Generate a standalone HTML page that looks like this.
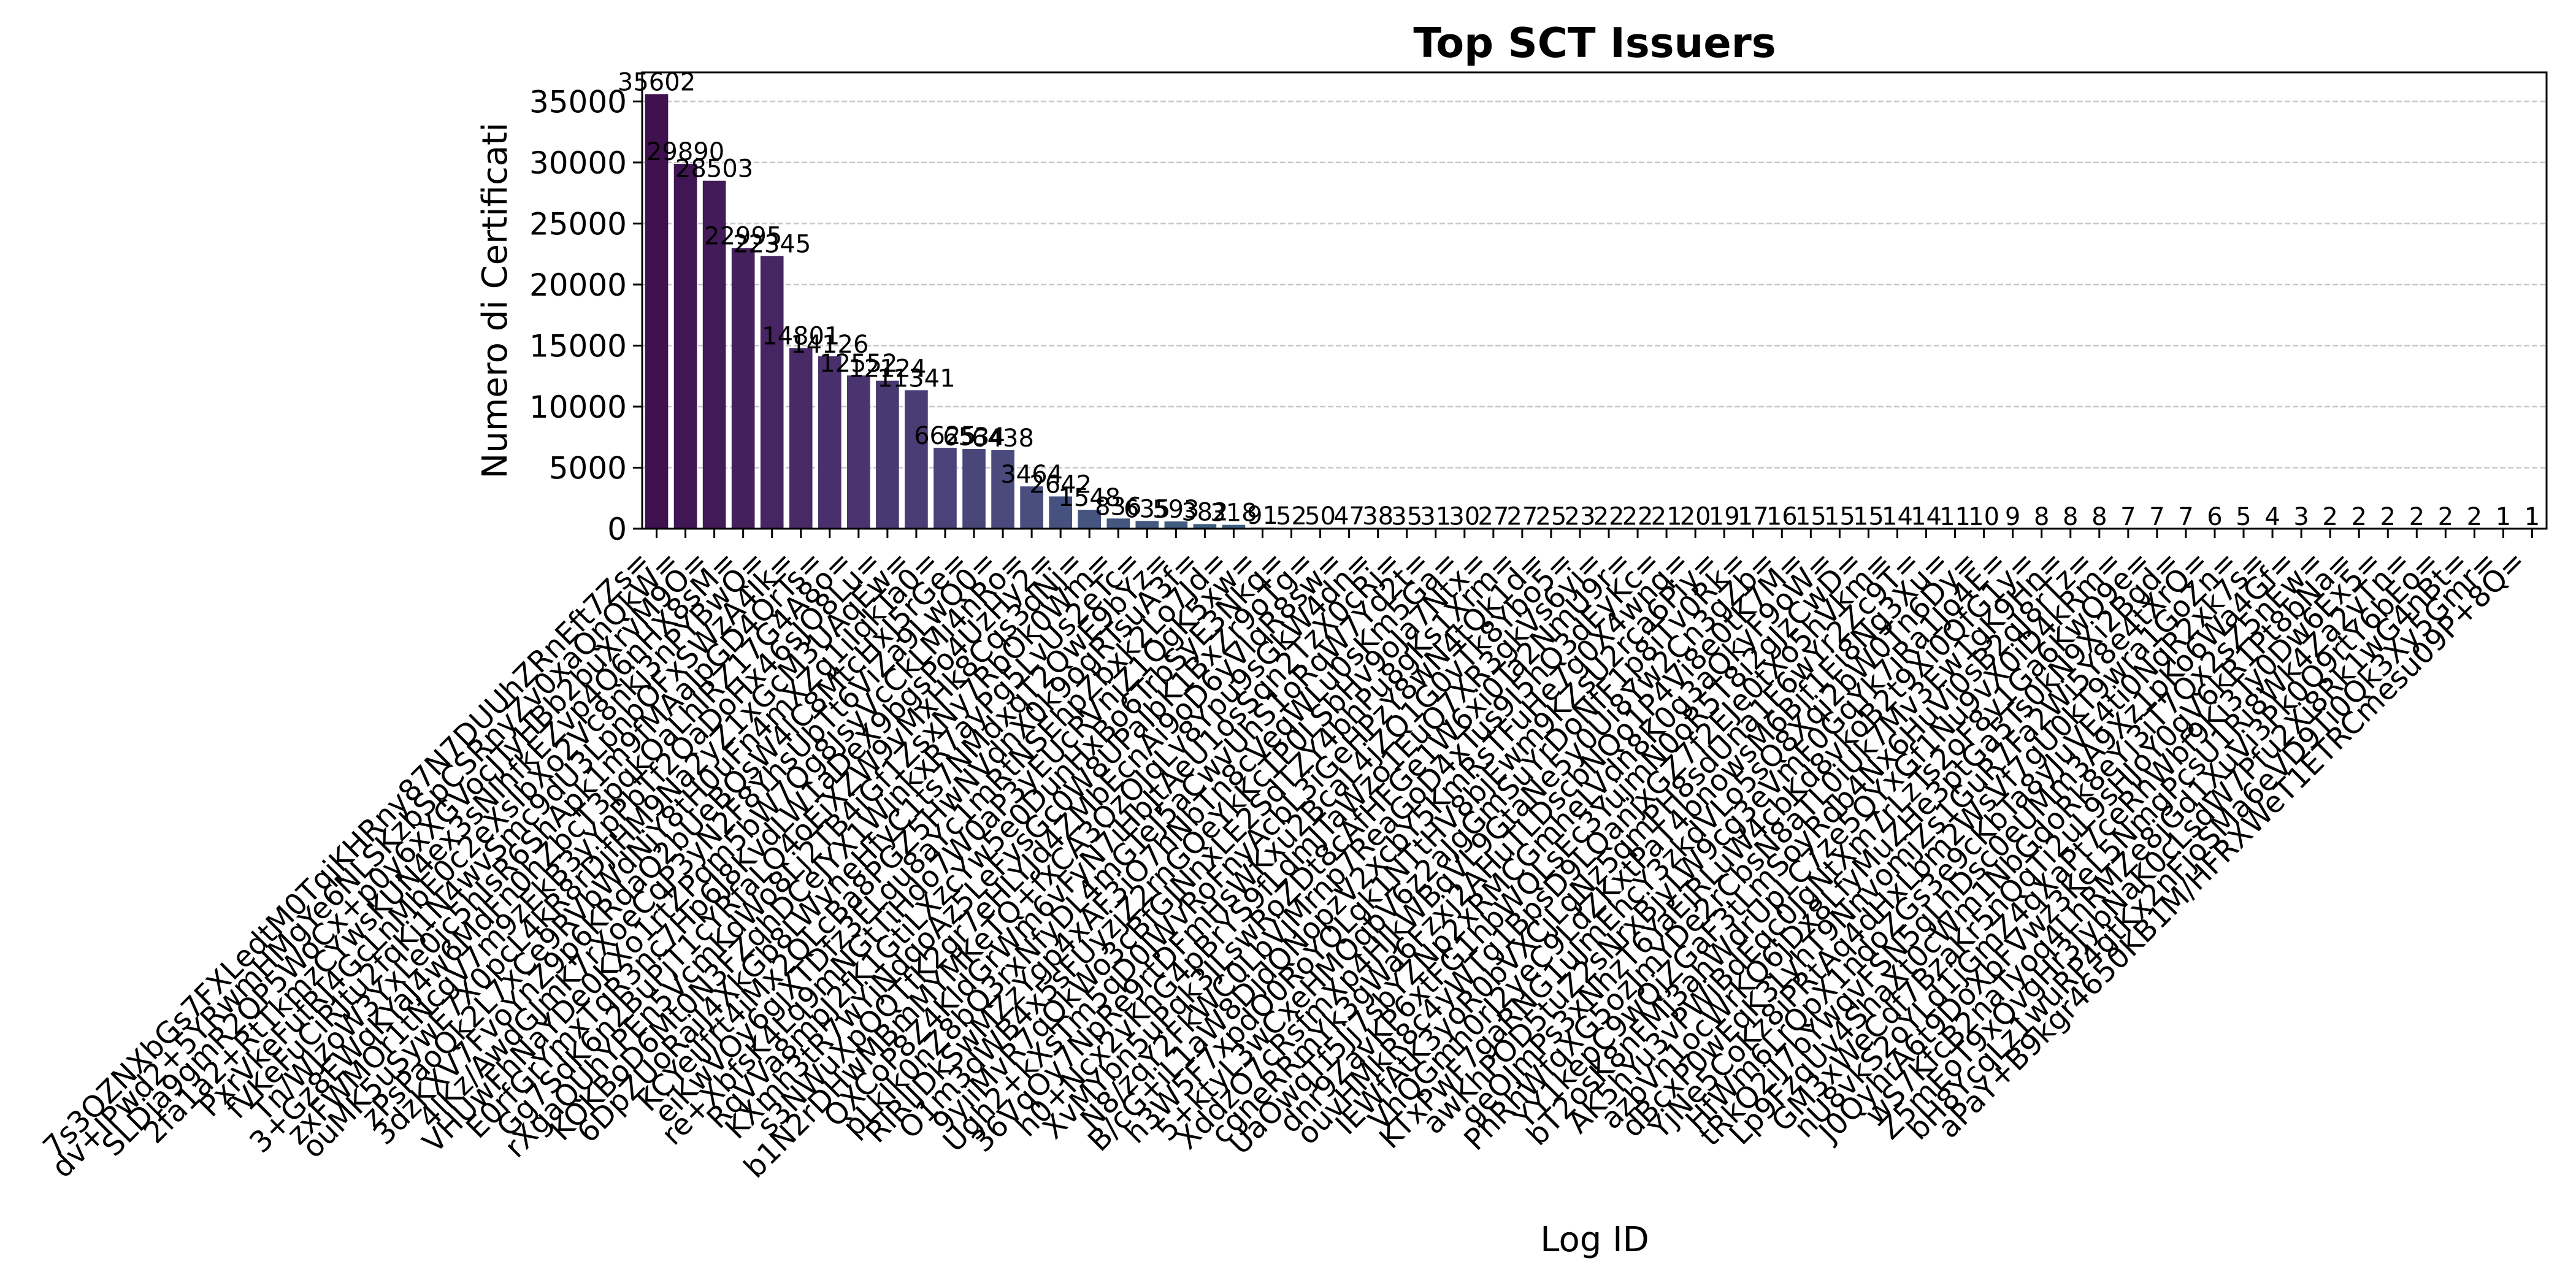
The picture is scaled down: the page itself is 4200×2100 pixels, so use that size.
<!DOCTYPE html>
<html><head><meta charset="utf-8"><title>Top SCT Issuers</title>
<style>
html,body{margin:0;padding:0;background:#fff;}
svg{display:block;font-family:"DejaVu Sans","Liberation Sans",sans-serif;}
</style></head>
<body>
<svg id="chart" width="4200" height="2100" viewBox="0 0 4200 2100" xmlns="http://www.w3.org/2000/svg">
<rect x="0" y="0" width="4200" height="2100" fill="#fff"/>
<text x="2600" y="93" text-anchor="middle" font-size="67" font-weight="bold">Top SCT Issuers</text>
<text transform="translate(826,490) rotate(-90)" text-anchor="middle" font-size="56">Numero di Certificati</text>
<text x="2600" y="2040" text-anchor="middle" font-size="56">Log ID</text>
<g id="grid"></g>
<g id="bars"></g>
<g id="vals"></g>
<g id="yaxis"></g>
<g id="xaxis"></g>
<rect x="1047" y="118" width="3105" height="744" fill="none" stroke="#000" stroke-width="3"/>
</svg>
<script>
const values = [35602,29890,28503,22995,22345,14801,14126,12552,12124,11341,6625,6534,6438,3464,2642,1548,836,635,593,382,318,
91,52,50,47,38,35,31,30,27,27,25,23,22,22,21,20,19,17,16,15,15,15,14,14,11,10,
9,8,8,8,7,7,7,6,5,4,3,2,2,2,2,2,2,1,1];
const categories = [
"7s3OZNXbGs7FXLedtM0TqjKHRny87N7DUUhZRnEft7Zs=",
"dv+IPwd2+5YRwmHMgYe6NLSKzbSpCSRnyZv0xaQnQkW=",
"SLDja9gmR2OP5WoCx+p0y6xXGVocJTyHBb2buXrvM9O=",
"2fa1a2+RtTkmzCYwsKUN4ex3sNIhfkEZvp4Q6nHX8sM=",
"PxrVkeFufRJ4GcLnMbE0c2eXsIbXo2Vc8nkj3nPYBwQ=",
"fVKeFuCiRJtu2fqKj1N4wvSmc9dU3LpnbOFxSWzA4Ik=",
"Tn/WJzoW3YxLe0jc5hIsR6ShApk1m9fMAaIpGD4QrTs=",
"3+Gz8EWqKYaJ4w6MdFn0hZbcT3pqkOaLhIRZ17G4A8o=",
"zxFWMOr1tNcgV7m9zEkB3yYpPbTf2QaDoHx46sJO8Lu=",
"ouMK5uSywE7X0pcL4kR8rDjfHM9Na2yZ1xGcM3UAqEw=",
"zPsPaoQk2L7xCe9RVbWdNjY8tH0uFn4mXZg1iIqkTa0=",
"3dzKXV7FvoYnZ9p6KRdaO2bUeBQsW4lC8MtcHxJ5rGe=",
"4lKz/AwdGJmK7rXoeCqP3yN2F8YhsUbTt6ViZa9LwQ0=",
"VHUwFhNaYDe0KXo1rtZPqm5bW7Qg8JsyVcCkLMi4nRo=",
"E0rfGrYmxTqR3nc7Hp6J8KvdLW1aDeX9bgsPo4UzHy2=",
"Gg7SdK6n2BuPjT1cYRfaLQ4oEiXZW9vMxHk8Cqs3dNj=",
"rXgaQUhYPEn5VcmKdWo8Lj2TB4iGf1ZsxNy7RbOk0Wm=",
"KOKBoD6Mt0N3FZqhDCeJYX1WjnkxR7ayPg5LvUs2eTc=",
"6DpZUoRaiJ4XkGb8LWvneHfyC1ts7NMdxqT2QwE9bYz=",
"KCYeiJfrt4iMx2QLcBa8PGZ5HwNVdnX0k9ogRTsuA3f=",
"eiKwVOy6gjXTDfz3FLqu8aYc1mRtNSEhpZbxk2Lo7Jd=",
"re+XbfsK4Lq9mNGtTiHdo7W0aP3yEUcRVnjZ1QgK5xw=",
"RqVVa8mpJ2fK1GtiLXzcYw5e0DunHxBo6TrbSyE3Nkq=",
"KXmh3tR7wYjNdqoAz5LeFvsGc0W8UPaIbK1BxZr9oTg=",
"s3NWuXpOQTfK2gr7eHLYJd4ZMbEcnAi9oD6yVlqR8sw=",
"b1N2rDHwMBmMYMKeTQ+fxCA3OzOJqLv8Ypu9sGkW4dn=",
"QXCoP8Z4KldGrWm6vFyN7iHbJtAeU1osSqn2TzX0cRj=",
"pLkIk0nZ8bQ3rxNfyDL4mGTeJ5aCwvUhS1oRqW7Yd2t=",
"RlRlJDkSwMZzYgp4xAF3iO7hNbTn8cVeqWLu0sKm5Ga=",
"O1m3dWB4x5sFUyzjZ2rnGQeYkKcTP0LSbHv9oJa7Ntx=",
"9yiiMvR7qQkWo3cBfGJNnxLE2SdTZY4bhPu8gKs1Xrm=",
"Ugh2+kXsTm5qD0JWvRoFnyAcbL3iGeHPzY8wN4tQk1d=",
"36VqOy7NpRe9rtDFmHsWKxu2BcaL4jZQ1G0vTk8Ybo5=",
"h0+Ncx2vKhG4pBrYS9fLdmJTaWzo1EuQ7XR3gkVs6yi=",
"XvMYbn5uPqk3JLswRoZDt8cAfHFGe1W6xi0Ta2NmU9r=",
"N8/zqY2FkWC0LbVjMrnp7ReaGoD4xTus9I5hQ3dEyKc=",
"B/cG+iL1aW8DjdQNopzV2xcbY5KmRsTFuHe7g0X4wnq=",
"h3W5F7xpdO0RoYQLgk1NTtHV8bjEwm9KZsU2rca6Piy=",
"5+ktyL3wCxeHMQqbV6z2aJgGmSuYrDoNfF1p8iTv0Rk=",
"XddzO7cRsfmXp4HJkWBqVL9GtaNe5y0Ui8Yw2Cn3gZb=",
"cgneRRmYk3gWa6Fzxj2AHuTLDscbNQo1P4Vi8e0tK7M=",
"UaOwqTf5Jj7sbYZNp2xRMCGmheLVdn8K0g3aQkyF9oW=",
"dnr9ZavKP6xtFG1hbWQLsEc3YujmN0oR5T8i2gJzCwD=",
"ouvHMkR8c4yWTg1BpsD9LQanjxGZ7f2EJe0tXo5hVkm=",
"IEWfAtK3yoR0bVXCjLgNz5qmPH8sdUna1F6wYr2Zc9T=",
"VhQGmh0rJ2yeC9LdZKxtPaT4bnowsM6Bjf1Ei8Ng3Xu=",
"KTxPwF7gaRNG1uJmEhcY3zkdVLo5sQ8Xqi2bW0Tn6Dy=",
"awKhPOD5tuZ2sNrxBjyLW9cg3eVmF0GqYk7iRa1Jo4E=",
"geOJmPs3xNhzT6YaEjRLuW4cbKd8vkoB2t9Xi0QfG1y=",
"PhRhWfqXG5ozJmYDe2rCbsN8aTL0iUk7Mv3Ew1gK9Hn=",
"YY1kepC9wQjZGaF3tLmSoyRdb4Nx6HuVi0sB2qJ8rTz=",
"bT2osK8nFMj3ahWdrUpLC7ze5QYxGf1Nu9vX0iD4kRm=",
"AK5hYu3vPWiBdEqc0JgNtXm7rLzTs2oF8y1Ga6KwQ9e=",
"azbVn1ocWrKQ6jDx8LfyMuZHe3ptGa5Ts0kN9Xi2Bgd=",
"dBcxP0wEqK3LyhT9NnvomjZs1GuR7Fa2Wi5Y8e4tXrQ=",
"YjNe5CoKz8iPRtAq4dHxLbm2WsVf7gU0kT9wra1GoZn=",
"HfWm6LrQpX1ndoZGs3e9cKbTa8yJuVE4ti0NqR2xk7s=",
"tRkO2iJ7bYwqvFSN5gLhDsc0eUMm3A9Xz1pKo6Wa4Gf=",
"Lp9FzqUv4ShaXt0cWm1NbGdoRk8eYj3iT7Qx2sZ5nEw=",
"GM3xWeCdf7BzaKr5nQqTi2uL9sHJoY0gV6kR1Pt8bNa=",
"nU8vkS2oYLd1jGmZ4qXaPt7ceRhWbf9Ki3Ty0Dw6Ex5=",
"J0QyhrA6t9DoXbFVwz3KeL5NmgPcsU1Ri8Wk4Za2vTn=",
"wS7KfcB2naTyoq4LhRMZe8jGd1XuVi3Pk0Q9rtY6bEo=",
"Z5mEoT9xQvgHr3JybNaK0cLsdW7Pfu2Xi8Rk1wG4nBt=",
"bH8YcqLz1wuRP4gtKx2nFjoSMa6eVD9Ti0Qk3Xy5Gmr=",
"aPaY+B9kgr4650KB1M/HFRXWeT1ETRCmesu09P+8Q="
];
const yTicks = [0,5000,10000,15000,20000,25000,30000,35000];
const yTickLabels = ["0","5000","10000","15000","20000","25000","30000","35000"];

const NS = "http://www.w3.org/2000/svg";
const L = 1047, R = 4152, T = 118, B = 862;
const n = values.length;
const yMax = Math.max(...values) * 1.05;
const step = (R - L) / n;
function xScale(i){ return L + (i + 0.5) * step; }
function yScale(v){ return B - v / yMax * (B - T); }

const vstops = ["#440154","#482475","#414487","#355f8d","#2a788e","#21918c","#22a884","#44bf70","#7ad151","#bddf26","#fde725"];
function hex2rgb(h){ return [1,3,5].map(k=>parseInt(h.substr(k,2),16)/255); }
function viridis(t){
  const p = t * 10, k = Math.min(9, Math.floor(p)), f = p - k;
  const a = hex2rgb(vstops[k]), b = hex2rgb(vstops[k+1]);
  return a.map((c,j)=>c + (b[j]-c)*f);
}
function desat(rgb, s){
  const [r,g,b] = rgb, mx = Math.max(r,g,b), mn = Math.min(r,g,b), l = (mx+mn)/2;
  let h=0, sat=0;
  if (mx !== mn){
    const d = mx - mn;
    sat = l > 0.5 ? d/(2-mx-mn) : d/(mx+mn);
    if (mx === r) h = ((g-b)/d + (g<b?6:0));
    else if (mx === g) h = (b-r)/d + 2;
    else h = (r-g)/d + 4;
    h /= 6;
  }
  sat *= s;
  function hue2(p,q,t){ if(t<0)t+=1; if(t>1)t-=1; if(t<1/6)return p+(q-p)*6*t; if(t<1/2)return q; if(t<2/3)return p+(q-p)*(2/3-t)*6; return p; }
  const q = l < 0.5 ? l*(1+sat) : l+sat-l*sat, p = 2*l - q;
  return [hue2(p,q,h+1/3), hue2(p,q,h), hue2(p,q,h-1/3)];
}
function toHex(rgb){ return "#" + rgb.map(c=>Math.round(Math.max(0,Math.min(1,c))*255).toString(16).padStart(2,"0")).join(""); }
function mk(tag, attrs, parent){
  const e = document.createElementNS(NS, tag);
  for (const k in attrs) e.setAttribute(k, attrs[k]);
  parent.appendChild(e);
  return e;
}

const grid = document.getElementById("grid");
const yaxis = document.getElementById("yaxis");
yTicks.forEach((v, i) => {
  const y = yScale(v);
  const gl = mk("line", {x1:L, x2:R, y1:y, y2:y, stroke:"#b0b0b0", "stroke-width":2.5, "stroke-dasharray":"9 4", opacity:0.7}, grid);
  
  
  const tk = mk("line", {x1:L-15, x2:L, y1:y, y2:y, stroke:"#000", "stroke-width":3}, yaxis);
  
  
  const tl = mk("text", {x:L-25, y:y+18, "text-anchor":"end", "font-size":50}, yaxis);
  tl.textContent = yTickLabels[i];
  
  
});

const bars = document.getElementById("bars");
const vals = document.getElementById("vals");
const xaxis = document.getElementById("xaxis");
const bw = step * 0.8;
values.forEach((v, i) => {
  const cx = xScale(i);
  const y = yScale(v);
  const t = (i + 1) / (n + 1);
  const col = toHex(desat(viridis(t), 0.75));
  const r = mk("rect", {x:cx - bw/2, y:y, width:bw, height:B - y, fill:col}, bars);
  
  
  const vt = mk("text", {x:cx, y:y - 6, "text-anchor":"middle", "font-size":40}, vals);
  vt.textContent = String(v);
  
  
  const tk = mk("line", {x1:cx, x2:cx, y1:B, y2:B+15, stroke:"#000", "stroke-width":3}, xaxis);
  
  
  const px = cx - 8, py = 918;
  const xl = mk("text", {x:px, y:py, "text-anchor":"end", "font-size":48, transform:"rotate(-45 " + px + " " + py + ")"}, xaxis);
  xl.textContent = categories[i];
  
  
});
</script>
</body></html>
